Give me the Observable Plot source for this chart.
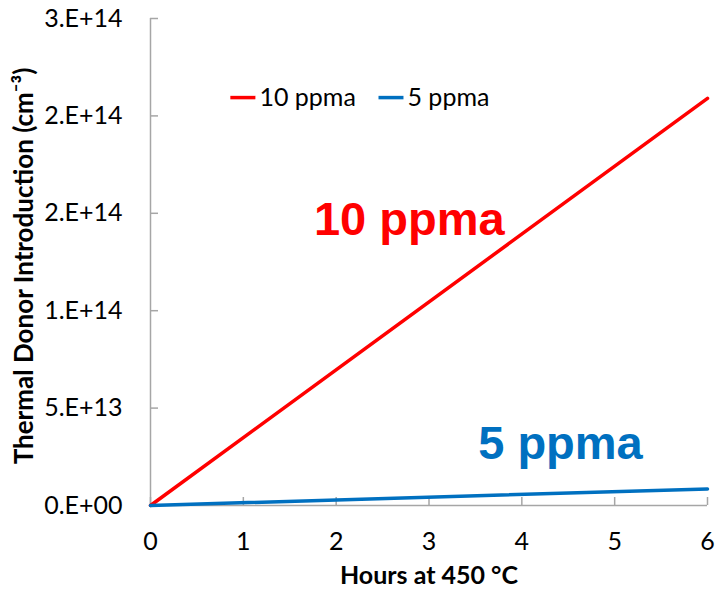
<!DOCTYPE html>
<html>
<head>
<meta charset="utf-8">
<script src="https://cdn.jsdelivr.net/npm/d3@7"></script>
<script src="https://cdn.jsdelivr.net/npm/@observablehq/plot@0.6"></script>
<style>
  html, body { margin: 0; padding: 0; background: #fff; }
  #chart { width: 716px; height: 593px; }
</style>
</head>
<body>
<div id="chart"></div>
<script>
// Data
const series = ["10 ppma", "5 ppma"];
const colors = ["#FF0000", "#0070C0"];
const hours = [0, 6];
const values10 = [0, 2.09e14];
const values5 = [0, 8.5e12];
const yTicks = [0, 5e13, 1e14, 1.5e14, 2e14, 2.5e14];
const yTickLabels = ["0.E+00", "5.E+13", "1.E+14", "2.E+14", "2.E+14", "3.E+14"];
const xTicks = [0, 1, 2, 3, 4, 5, 6];

// Annotations (data units)
const annotations = [
  {text: "10 ppma", x: 1.76, y: 1.39e14, color: "#FF0000"},
  {text: "5 ppma", x: 3.53, y: 0.24e14, color: "#0070C0"}
];
// Legend entries (data units)
const legendItems = [
  {label: "10 ppma", x1: 0.86, x2: 1.13, y: 2.094e14, color: "#FF0000"},
  {label: "5 ppma", x1: 2.456, x2: 2.725, y: 2.094e14, color: "#0070C0"}
];

const rows = [];
hours.forEach((h, i) => {
  rows.push({series: series[0], x: h, y: values10[i]});
  rows.push({series: series[1], x: h, y: values5[i]});
});

const tickFont = "Lato, 'Open Sans', sans-serif";

const chart = Plot.plot({
  width: 716,
  height: 593,
  marginLeft: 150,
  marginRight: 9,
  marginTop: 18,
  marginBottom: 88,
  style: {fontFamily: tickFont, fontSize: "25px", color: "#000", background: "#fff"},
  x: {type: "linear", domain: [0, 6]},
  y: {type: "linear", domain: [0, 2.5e14]},
  color: {domain: series, range: colors},
  marks: [
    // inward tick marks
    Plot.axisY({ticks: yTicks, tickSize: 8, dx: 8, text: null, label: null, stroke: "#a6a6a6", strokeWidth: 1.5, strokeOpacity: 1}),
    Plot.axisX({ticks: xTicks, tickSize: 8, dy: -8, text: null, label: null, stroke: "#a6a6a6", strokeWidth: 1.5, strokeOpacity: 1}),
    // tick labels
    Plot.axisY({ticks: yTicks, tickFormat: d => yTickLabels[yTicks.indexOf(d)], tickSize: 0, tickPadding: 28, fontSize: 25, fill: "#000", label: null}),
    Plot.axisX({ticks: xTicks, tickFormat: d3.format("d"), tickSize: 0, tickPadding: 27, fontSize: 25, fill: "#000", label: null}),
    // axes lines
    Plot.ruleX([0], {stroke: "#a6a6a6", strokeWidth: 1.5}),
    Plot.ruleY([0], {stroke: "#a6a6a6", strokeWidth: 1.5}),
    // lines
    Plot.line(rows, {x: "x", y: "y", z: "series", stroke: "series", strokeWidth: 3.5}),
    // legend
    Plot.link(legendItems, {x1: "x1", x2: "x2", y1: "y", y2: "y", stroke: d => d.color, strokeWidth: 3.5}),
    Plot.text(legendItems, {x: "x2", y: "y", text: "label", textAnchor: "start", dx: 4, fontSize: 25, fill: "#000", fontFamily: tickFont}),
    // annotations
    Plot.text(annotations, {x: "x", y: "y", text: "text", fill: d => d.color, textAnchor: "start", lineAnchor: "bottom", fontSize: 47, fontWeight: "bold", fontFamily: "'Liberation Sans', Arial, sans-serif"}),
    // axis titles
    Plot.text(["Hours at 450 °C"], {frameAnchor: "bottom", dy: 78, text: d => d, fontSize: 25, fontWeight: "bold", fontFamily: tickFont, fill: "#000"}),
    Plot.text(["Thermal Donor Introduction (cm⁻³)"], {frameAnchor: "left", dx: -126, dy: 4, textAnchor: "middle", rotate: -90, text: d => d, fontSize: 26, fontWeight: "bold", fontFamily: tickFont, fill: "#000"})
  ]
});
document.getElementById("chart").appendChild(chart);
</script>
</body>
</html>
